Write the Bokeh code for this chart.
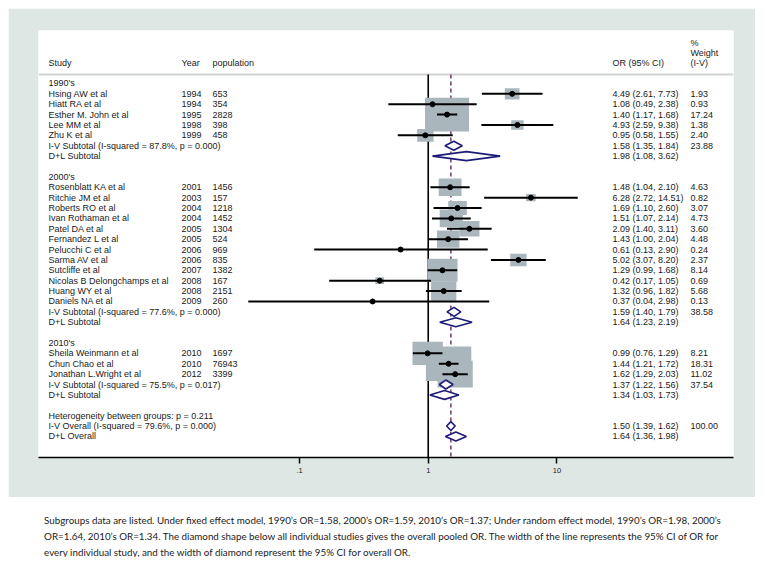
import numpy as np
from bokeh.plotting import figure
from bokeh.models import Range1d, LinearScale, ColumnDataSource, FixedTicker
from bokeh.layouts import column
from bokeh.embed import file_html
from bokeh.resources import INLINE
from bokeh.core.properties import value

# ---------------- data ----------------
group_names = ["1990's", "2000's", "2010's"]

studies_1990 = ["Hsing AW et al", "Hiatt RA  et al", "Esther M. John et al", "Lee MM et al", "Zhu K et al"]
years_1990 = [1994, 1994, 1995, 1998, 1999]
pop_1990 = [653, 354, 2828, 398, 458]
or_1990 = [4.49, 1.08, 1.40, 4.93, 0.95]
lo_1990 = [2.61, 0.49, 1.17, 2.59, 0.58]
hi_1990 = [7.73, 2.38, 1.68, 9.38, 1.55]
wt_1990 = [1.93, 0.93, 17.24, 1.38, 2.40]

studies_2000 = ["Rosenblatt KA et al", "Ritchie JM et al", "Roberts RO et al", "Ivan Rothaman et al",
                "Patel DA et al", "Fernandez L et al", "Pelucchi C et al", "Sarma AV et al",
                "Sutcliffe et al", "Nicolas B Delongchamps et al", "Huang WY et al", "Daniels NA et al"]
years_2000 = [2001, 2003, 2004, 2004, 2005, 2005, 2006, 2006, 2007, 2008, 2008, 2009]
pop_2000 = [1456, 157, 1218, 1452, 1304, 524, 969, 835, 1382, 167, 2151, 260]
or_2000 = [1.48, 6.28, 1.69, 1.51, 2.09, 1.43, 0.61, 5.02, 1.29, 0.42, 1.32, 0.37]
lo_2000 = [1.04, 2.72, 1.10, 1.07, 1.40, 1.00, 0.13, 3.07, 0.99, 0.17, 0.96, 0.04]
hi_2000 = [2.10, 14.51, 2.60, 2.14, 3.11, 2.04, 2.90, 8.20, 1.68, 1.05, 1.82, 2.98]
wt_2000 = [4.63, 0.82, 3.07, 4.73, 3.60, 4.48, 0.24, 2.37, 8.14, 0.69, 5.68, 0.13]

studies_2010 = ["Sheila Weinmann et al", "Chun Chao et al", "Jonathan L.Wright et al"]
years_2010 = [2010, 2010, 2012]
pop_2010 = [1697, 76943, 3399]
or_2010 = [0.99, 1.44, 1.62]
lo_2010 = [0.76, 1.21, 1.29]
hi_2010 = [1.29, 1.72, 2.03]
wt_2010 = [8.21, 18.31, 11.02]

# subtotals: I-V (or, lo, hi, weight, I-squared, p) and D+L (or, lo, hi)
iv_sub_or = [1.58, 1.59, 1.37]
iv_sub_lo = [1.35, 1.40, 1.22]
iv_sub_hi = [1.84, 1.79, 1.56]
iv_sub_wt = [23.88, 38.58, 37.54]
iv_sub_isq = ["87.8%", "77.6%", "75.5%"]
iv_sub_p = ["0.000", "0.000", "0.017"]
dl_sub_or = [1.98, 1.64, 1.34]
dl_sub_lo = [1.08, 1.23, 1.03]
dl_sub_hi = [3.62, 2.19, 1.73]

het_between_p = "0.211"
iv_all = [1.50, 1.39, 1.62, 100.00]
iv_all_isq = "79.6%"
iv_all_p = "0.000"
dl_all = [1.64, 1.36, 1.98]

tick_vals = [0.1, 1, 10]
tick_labels = [".1", "1", "10"]

caption_lines = [
    "Subgroups data are listed. Under fixed effect model,  1990\u2019s OR=1.58, 2000\u2019s OR=1.59, 2010\u2019s OR=1.37; Under random effect model, 1990\u2019s OR=1.98, 2000\u2019s",
    "OR=1.64, 2010\u2019s OR=1.34. The  diamond shape below all individual studies gives the overall pooled OR. The width of the line represents the 95% CI of OR for",
    "every individual study, and the width of diamond represent the 95% CI for overall OR.",
]

# ---------------- layout of rows ----------------
groups = [
    (studies_1990, years_1990, pop_1990, or_1990, lo_1990, hi_1990, wt_1990),
    (studies_2000, years_2000, pop_2000, or_2000, lo_2000, hi_2000, wt_2000),
    (studies_2010, years_2010, pop_2010, or_2010, lo_2010, hi_2010, wt_2010),
]

def fmt_ci(o, l, h):
    return f"{o:.2f} ({l:.2f}, {h:.2f})"

txt = dict(study=dict(x=[], y=[], t=[]), year=dict(x=[], y=[], t=[]),
           pop=dict(x=[], y=[], t=[]), orci=dict(x=[], y=[], t=[]), wt=dict(x=[], y=[], t=[]))
st = dict(y=[], o=[], l=[], h=[], w=[])
dia = dict(xs=[], ys=[])

COL_STUDY, COL_YEAR, COL_POP, COL_OR, COL_WT = 10, 143, 174, 574, 652

def add_text(col, xpos, y, t):
    txt[col]["x"].append(xpos); txt[col]["y"].append(y); txt[col]["t"].append(t)

DH = 0.43  # half height of diamonds (rows)

def add_diamond(y, o, l, h):
    dia["xs"].append([l, o, h, o])
    dia["ys"].append([y, y - DH, y, y + DH])

row = 0
for gi, g in enumerate(groups):
    names, yrs, pops, ors, los, his, wts = g
    add_text("study", COL_STUDY, row, group_names[gi]); row += 1
    for n, yr, pp, o, l, h, w in zip(names, yrs, pops, ors, los, his, wts):
        add_text("study", COL_STUDY, row, n)
        add_text("year", COL_YEAR, row, str(yr))
        add_text("pop", COL_POP, row, str(pp))
        add_text("orci", COL_OR, row, fmt_ci(o, l, h))
        add_text("wt", COL_WT, row, f"{w:.2f}")
        st["y"].append(row); st["o"].append(o); st["l"].append(l); st["h"].append(h); st["w"].append(w)
        row += 1
    add_text("study", COL_STUDY, row, f"I-V Subtotal  (I-squared = {iv_sub_isq[gi]}, p = {iv_sub_p[gi]})")
    add_text("orci", COL_OR, row, fmt_ci(iv_sub_or[gi], iv_sub_lo[gi], iv_sub_hi[gi]))
    add_text("wt", COL_WT, row, f"{iv_sub_wt[gi]:.2f}")
    add_diamond(row, iv_sub_or[gi], iv_sub_lo[gi], iv_sub_hi[gi]); row += 1
    add_text("study", COL_STUDY, row, "D+L Subtotal")
    add_text("orci", COL_OR, row, fmt_ci(dl_sub_or[gi], dl_sub_lo[gi], dl_sub_hi[gi]))
    add_diamond(row, dl_sub_or[gi], dl_sub_lo[gi], dl_sub_hi[gi]); row += 1
    row += 1

add_text("study", COL_STUDY, row, f"Heterogeneity between groups: p = {het_between_p}"); row += 1
add_text("study", COL_STUDY, row, f"I-V Overall  (I-squared = {iv_all_isq}, p = {iv_all_p})")
add_text("orci", COL_OR, row, fmt_ci(*iv_all[:3]))
add_text("wt", COL_WT, row, f"{iv_all[3]:.2f}")
add_diamond(row, *iv_all[:3]); row += 1
add_text("study", COL_STUDY, row, "D+L Overall")
add_text("orci", COL_OR, row, fmt_ci(*dl_all))
add_diamond(row, *dl_all)

# headers
HDR = -2.0
add_text("study", COL_STUDY, HDR, "Study")
add_text("year", COL_YEAR, HDR, "Year")
add_text("pop", COL_POP, HDR, "population")
add_text("orci", COL_OR, HDR, "OR (95% CI)")
add_text("wt", COL_WT, HDR - 1.9, "%")
add_text("wt", COL_WT, HDR - 0.96, "Weight")
add_text("wt", COL_WT, HDR, "(I-V)")

# ---------------- figure ----------------
W, H = 747, 489
Y_TOP, Y_BOT = -5.1, 36.03
LINE_TOP = -0.87

p = figure(width=W, height=H, x_axis_type="log",
           x_range=Range1d(10 ** -3.028, 10 ** 2.372), y_range=Range1d(Y_BOT, Y_TOP),
           y_axis_location=None, toolbar_location=None, output_backend="svg",
           min_border_left=30, min_border_right=22, min_border_top=22, min_border_bottom=40)
p.extra_x_ranges = {"px": Range1d(0, W - 30 - 22)}
p.extra_x_scales = {"px": LinearScale()}
p.border_fill_color = "#dfe7e5"
p.background_fill_color = "white"
p.outline_line_color = None
p.xgrid.visible = False
p.ygrid.visible = False

# header separator
p.segment(x0=[10 ** -3.028], x1=[10 ** 2.372], y0=[LINE_TOP], y1=[LINE_TOP],
          line_color="#cfd3d3", line_width=2)
# overall (I-V) dashed line and null line
p.segment(x0=[iv_all[0]], x1=[iv_all[0]], y0=[LINE_TOP], y1=[Y_BOT],
          line_color="#6e3a66", line_width=1.5, line_dash="4 3")
p.segment(x0=[1], x1=[1], y0=[LINE_TOP], y1=[Y_BOT], line_color="black", line_width=1.6)

src = ColumnDataSource(dict(y=st["y"], o=st["o"], l=st["l"], h=st["h"],
                            bw=[10.6 * np.sqrt(w) for w in st["w"]],
                            bh=[8.1 * np.sqrt(w) for w in st["w"]]))
p.rect(x="o", y="y", width="bw", height="bh", width_units="screen", height_units="screen",
       source=src, fill_color="#a9b6bc", line_color=None)
p.segment(x0="l", x1="h", y0="y", y1="y", source=src, line_color="black", line_width=2)
p.scatter(x="o", y="y", source=src, size=5, color="black")

p.patches(xs=dia["xs"], ys=dia["ys"], fill_color="white", line_color="#1c1c78", line_width=1.6)

for col in txt:
    s = ColumnDataSource(txt[col])
    p.text(x="x", y="y", text="t", source=s, x_range_name="px",
           text_font=value("Liberation Sans"), text_font_size="9px",
           text_baseline="middle", text_align="left", text_color="#1a1a1a")

ax = p.xaxis[0]
ax.ticker = FixedTicker(ticks=tick_vals)
ax.major_label_overrides = {float(v): lab for v, lab in zip(tick_vals, tick_labels)}
ax.axis_line_color = "black"
ax.axis_line_width = 1.6
ax.major_tick_line_color = "black"
ax.major_tick_line_width = 1.5
ax.major_tick_out = 6
ax.major_tick_in = 0
ax.minor_tick_out = 0
ax.minor_tick_in = 0
ax.major_label_text_font = "Liberation Sans"
ax.major_label_text_font_size = "7.5px"
ax.major_label_text_color = "#1a1a1a"
ax.major_label_standoff = 4

# ---------------- caption ----------------
CW, CH = 747, 60
cap = figure(width=CW, height=CH, x_range=Range1d(0, CW), y_range=Range1d(CH, 0),
             x_axis_location=None, y_axis_location=None, toolbar_location=None,
             output_backend="svg", min_border=0)
cap.outline_line_color = None
cap.xgrid.visible = False
cap.ygrid.visible = False
cap.text(x=[6, 6, 6], y=[22, 38, 54], text=caption_lines,
         text_font=value("Lato"), text_font_size="9.8px", text_baseline="middle",
         text_align="left", text_color="#222222")

layout = column(p, cap, spacing=0, margin=(8, 8, 0, 8))
open("out.html", "w").write(file_html(layout, INLINE))
